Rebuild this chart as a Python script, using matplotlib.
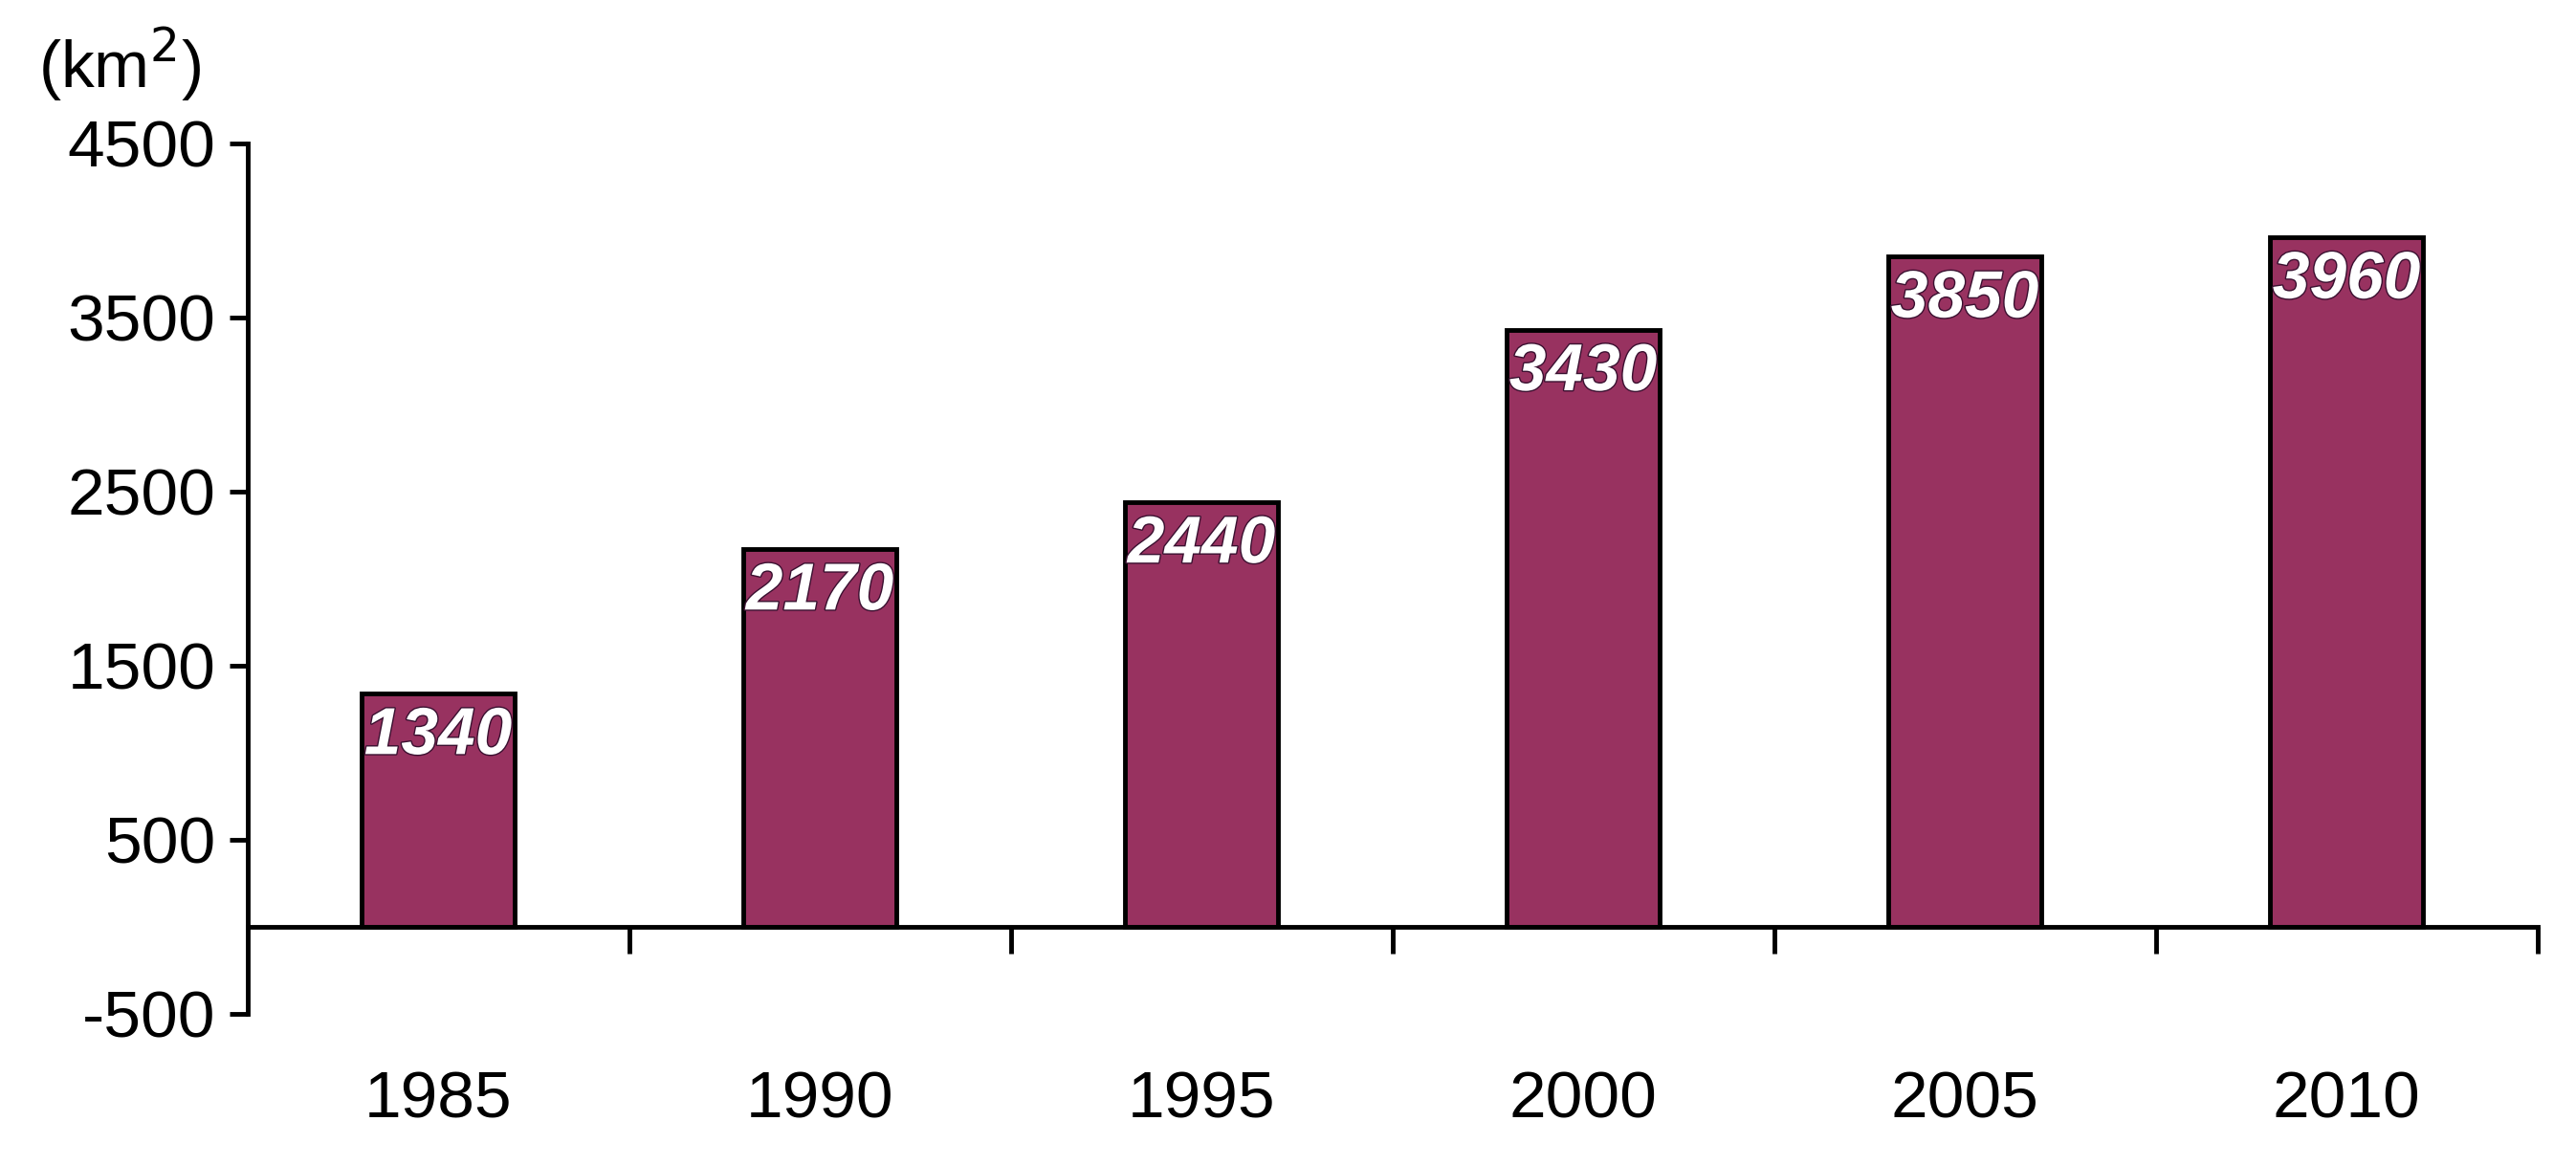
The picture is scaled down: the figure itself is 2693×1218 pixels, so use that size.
import matplotlib.pyplot as plt
import matplotlib.patheffects as pe
from matplotlib.transforms import blended_transform_factory

years = ['1985', '1990', '1995', '2000', '2005', '2010']
areas = [1340, 2170, 2440, 3430, 3850, 3960]
yticks = [-500, 500, 1500, 2500, 3500, 4500]

plt.rcParams['font.family'] = ['Liberation Sans', 'DejaVu Sans']
plt.rcParams['axes.unicode_minus'] = False
fig = plt.figure(figsize=(26.93, 12.18), dpi=100)
ax = fig.add_axes([0.096, 0.13, 0.889, 0.747])

x = range(len(years))
ax.bar(x, areas, width=0.4, color='#983260', edgecolor='black', linewidth=3.5, zorder=2)
for i, v in enumerate(areas):
    ax.text(i, v - 250, str(v), ha='center', va='center', color='white',
            fontsize=50, fontstyle='italic', fontweight='bold',
            path_effects=[pe.withStroke(linewidth=2, foreground='#3a1030')], zorder=3)

ax.set_xlim(-0.5, 5.5)
ax.set_ylim(-500, 4500)
ax.set_yticks(yticks)
ax.set_xticks([0.5, 1.5, 2.5, 3.5, 4.5, 5.5])
ax.set_xticklabels([])
ax.spines['bottom'].set_position(('data', 0))
ax.spines['top'].set_visible(False)
ax.spines['right'].set_visible(False)
for s in ('left', 'bottom'):
    ax.spines[s].set_linewidth(3.5)
ax.tick_params(axis='y', length=14, width=3.5, labelsize=50, pad=10)
ax.tick_params(axis='x', direction='out', length=20, width=3.5)

trans = blended_transform_factory(ax.transData, ax.transData)
for i, y in enumerate(years):
    ax.text(i, -1000, y, ha='center', va='center', fontsize=50, transform=trans, clip_on=False)

fig.text(0.015, 0.945, '(km$^2$)', fontsize=50, ha='left', va='center')
fig.savefig('out.png', dpi=100)
